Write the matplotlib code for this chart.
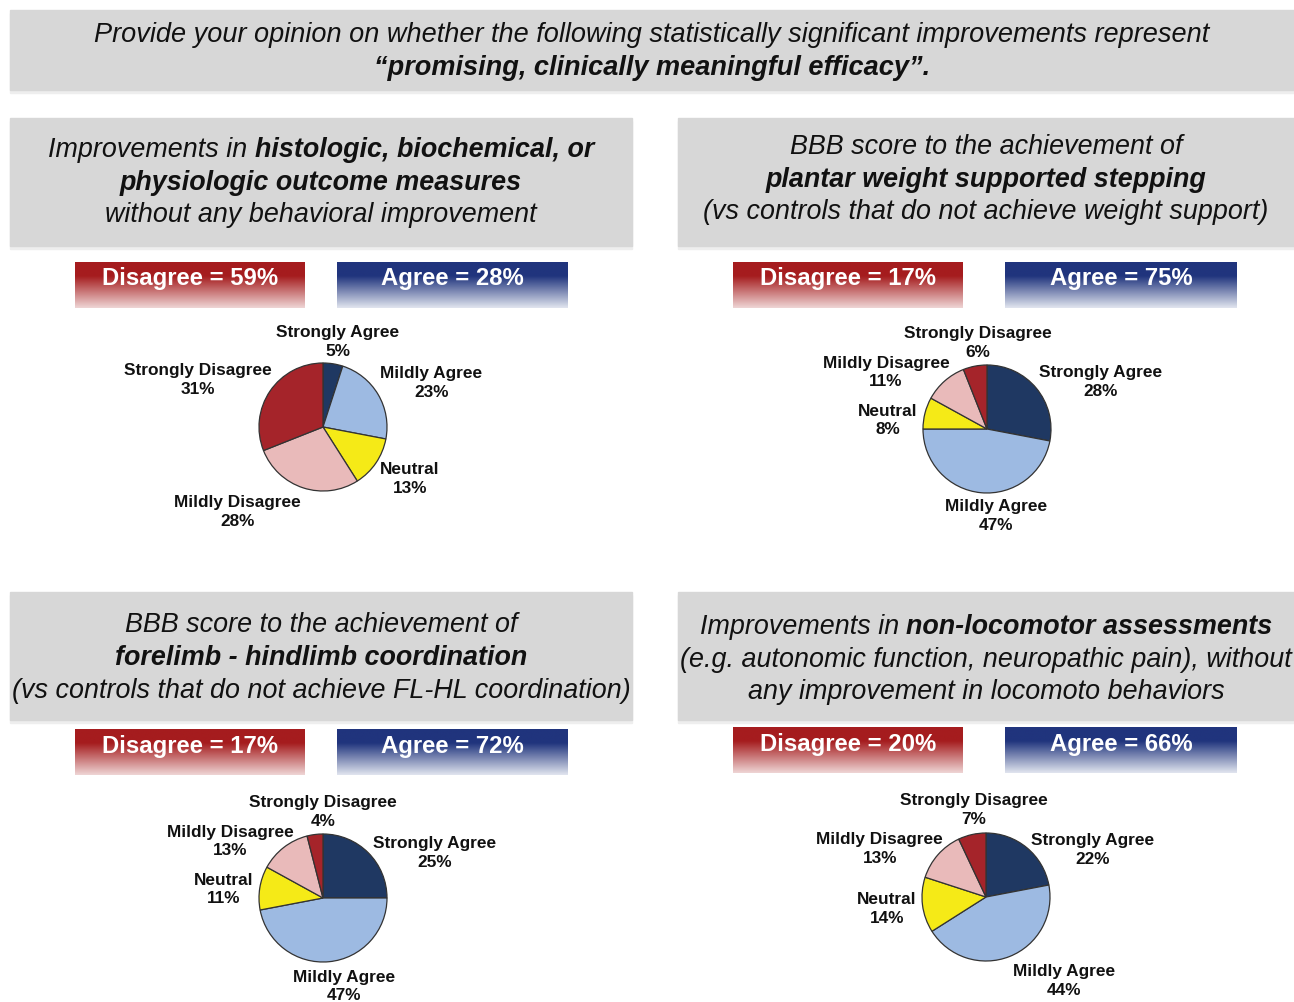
import numpy as np
import matplotlib
matplotlib.use("Agg")
from matplotlib import pyplot as plt
from matplotlib.patches import Rectangle

W, H = 1294, 1002

# Data
categories = ["Strongly Agree", "Mildly Agree", "Neutral", "Mildly Disagree", "Strongly Disagree"]
colors = ["#1f3862", "#9dbae2", "#f5ea17", "#e9baba", "#a5242a"]

values_histo = [5, 23, 13, 28, 31]
values_plantar = [28, 47, 8, 11, 6]
values_forelimb = [25, 47, 11, 13, 4]
values_nonloco = [22, 44, 14, 13, 7]

disagree_totals = [59, 17, 17, 20]
agree_totals = [28, 75, 72, 66]

banner_lines = [
    [("Provide your opinion on whether the following statistically significant improvements represent", "normal")],
    [("\u201cpromising, clinically meaningful efficacy\u201d.", "bold")],
]

headings = [
    [[("Improvements in ", "normal"), ("histologic, biochemical, or", "bold")],
     [("physiologic outcome measures", "bold")],
     [("without any behavioral improvement", "normal")]],
    [[("BBB score to the achievement of", "normal")],
     [("plantar weight supported stepping", "bold")],
     [("(vs controls that do not achieve weight support)", "normal")]],
    [[("BBB score to the achievement of", "normal")],
     [("forelimb - hindlimb coordination", "bold")],
     [("(vs controls that do not achieve FL-HL coordination)", "normal")]],
    [[("Improvements in ", "normal"), ("non-locomotor assessments", "bold")],
     [("(e.g. autonomic function, neuropathic pain), without", "normal")],
     [("any improvement in locomoto behaviors", "normal")]],
]

# label placement around each pie (in pie radius units)
label_pos_histo = [(0.23, 1.33), (1.69, 0.69), (1.36, -0.81), (-1.34, -1.33), (-1.95, 0.73)]
label_pos_plantar = [(1.78, 0.73), (0.14, -1.36), (-1.55, 0.13), (-1.58, 0.88), (-0.14, 1.34)]
label_pos_forelimb = [(1.75, 0.70), (0.33, -1.38), (-1.55, 0.13), (-1.45, 0.88), (0.0, 1.34)]
label_pos_nonloco = [(1.67, 0.73), (1.22, -1.31), (-1.55, -0.19), (-1.66, 0.75), (-0.19, 1.36)]

# panel layout (pixels)
panels = [
    dict(box=(10, 118, 632, 246), lines_y=(150, 183, 215), btn_y=(262, 308), dis_x=(75, 305), agr_x=(337, 568),
         pie=(323, 427), values=values_histo, labels=label_pos_histo),
    dict(box=(678, 118, 1294, 246), lines_y=(147, 180, 212), btn_y=(262, 308), dis_x=(733, 963), agr_x=(1005, 1237),
         pie=(987, 429), values=values_plantar, labels=label_pos_plantar),
    dict(box=(10, 592, 632, 720), lines_y=(625, 658, 691), btn_y=(729, 775), dis_x=(75, 305), agr_x=(337, 568),
         pie=(323, 898), values=values_forelimb, labels=label_pos_forelimb),
    dict(box=(678, 592, 1294, 720), lines_y=(627, 660, 692), btn_y=(727, 773), dis_x=(733, 963), agr_x=(1005, 1237),
         pie=(986, 897), values=values_nonloco, labels=label_pos_nonloco),
]

fig = plt.figure(figsize=(W / 100, H / 100), dpi=100)
bg = fig.add_axes([0, 0, 1, 1])
bg.set_xlim(0, W)
bg.set_ylim(H, 0)
bg.axis("off")
renderer = fig.canvas.get_renderer()

FONT = "Liberation Sans"


def gray_box(x0, y0, x1, y1):
    bg.add_patch(Rectangle((x0, y0 + 3), x1 - x0, y1 - y0, color="#eeeeee", zorder=1))
    bg.add_patch(Rectangle((x0, y0), x1 - x0, y1 - y0, color="#d7d7d7", zorder=2))


def text_width(s, weight, size, family):
    t = bg.text(0, 0, s, fontsize=size, fontweight=weight, style="italic", family=family)
    bb = t.get_window_extent(renderer)
    t.remove()
    return bb.width


def mixed_line(cx, y, parts, size, family=FONT):
    sp = text_width("x x", "normal", size, family) - text_width("xx", "normal", size, family)
    widths = []
    for s, w in parts:
        stripped = s.rstrip(" ")
        widths.append(text_width(stripped, w, size, family) + sp * (len(s) - len(stripped)))
    x = cx - sum(widths) / 2.0
    for (s, w), wd in zip(parts, widths):
        bg.text(x, y, s.rstrip(" "), fontsize=size, fontweight=w, style="italic", family=family,
                ha="left", va="center", color="#111111", zorder=5)
        x += wd


def gradient_box(x0, y0, x1, y1, top, bottom):
    n = 64
    t = np.linspace(0, 1, n)
    f = np.clip((t - 0.3) / 0.7, 0, 1)
    top = np.array(top) / 255.0
    bottom = np.array(bottom) / 255.0
    img = top[None, :] * (1 - f[:, None]) + bottom[None, :] * f[:, None]
    img = np.repeat(img[:, None, :], 2, axis=1)
    bg.imshow(img, extent=(x0, x1, y1, y0), aspect="auto", zorder=3, interpolation="bilinear")


# top banner
gray_box(10, 10, 1294, 90)
mixed_line(652, 35, banner_lines[0], 19.5)
mixed_line(652, 68, banner_lines[1], 19.5)

for p, head, dis, agr in zip(panels, headings, disagree_totals, agree_totals):
    x0, y0, x1, y1 = p["box"]
    gray_box(x0, y0, x1, y1)
    cx = (x0 + x1) / 2.0
    for line, ly in zip(head, p["lines_y"]):
        mixed_line(cx, ly, line, 19.4)

    by0, by1 = p["btn_y"]
    gradient_box(p["dis_x"][0], by0, p["dis_x"][1], by1, (165, 28, 30), (238, 212, 212))
    gradient_box(p["agr_x"][0], by0, p["agr_x"][1], by1, (32, 52, 125), (224, 228, 238))
    bg.text(sum(p["dis_x"]) / 2.0, by0 + 17, "Disagree = %d%%" % dis, color="white", fontsize=17.2,
            fontweight="bold", family=FONT, ha="center", va="center", zorder=6)
    bg.text(sum(p["agr_x"]) / 2.0, by0 + 17, "Agree = %d%%" % agr, color="white", fontsize=17.2,
            fontweight="bold", family=FONT, ha="center", va="center", zorder=6)

    # pie
    pcx, pcy = p["pie"]
    R = 64.0
    k = 2.6
    ax = fig.add_axes([(pcx - R * k) / W, 1 - (pcy + R * k) / H, 2 * R * k / W, 2 * R * k / H])
    ax.pie(p["values"], colors=colors, startangle=90, counterclock=False, radius=1.0,
           wedgeprops=dict(edgecolor="#333333", linewidth=0.9))
    ax.set_xlim(-k, k)
    ax.set_ylim(-k, k)
    ax.set_aspect("equal")
    ax.axis("off")
    for cat, val, (lx, ly) in zip(categories, p["values"], p["labels"]):
        ax.text(lx, ly, "%s\n%d%%" % (cat, val), ha="center", va="center", fontsize=12.4,
                fontweight="bold", family=FONT, color="#111111", linespacing=1.3)

fig.savefig("out.png", dpi=100)
